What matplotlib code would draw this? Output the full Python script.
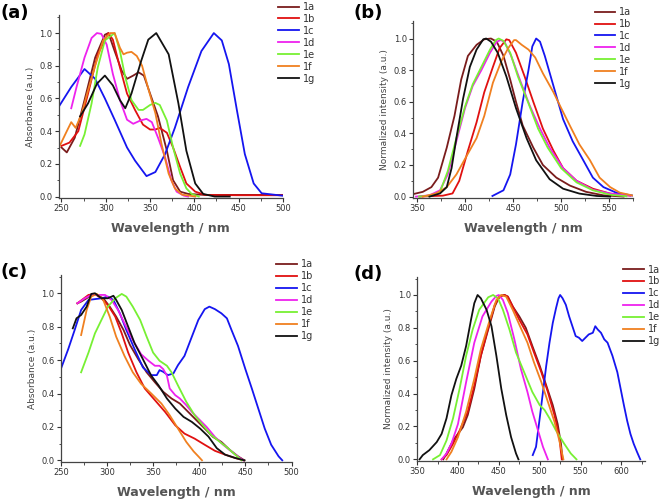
import matplotlib
matplotlib.use("Agg")
import matplotlib.pyplot as plt
from matplotlib.ticker import MultipleLocator, AutoMinorLocator

names = ["1a", "1b", "1c", "1d", "1e", "1f", "1g"]
colors = ["#7a1c1c", "#e01010", "#1515f0", "#ee22ee", "#77f033", "#f08020", "#111111"]

# (a) absorbance, set 1
a_1a_x = [250, 256, 265, 276, 288, 299, 303, 310, 318, 324, 331, 337, 343, 350, 359, 369, 376, 384, 393, 412, 450, 500]
a_1a_y = [0.30, 0.27, 0.36, 0.59, 0.85, 0.99, 1.0, 0.89, 0.77, 0.72, 0.74, 0.76, 0.74, 0.63, 0.49, 0.28, 0.10, 0.03, 0.016, 0.01, 0.01, 0.01]
a_1b_x = [250, 259, 269, 280, 291, 301, 303, 308, 316, 324, 333, 342, 350, 356, 361, 369, 376, 384, 391, 401, 412, 450, 500]
a_1b_y = [0.31, 0.33, 0.40, 0.63, 0.87, 0.98, 1.0, 0.96, 0.79, 0.63, 0.53, 0.44, 0.41, 0.41, 0.42, 0.39, 0.30, 0.18, 0.08, 0.03, 0.01, 0.008, 0.008]
a_1c_x = [247, 261, 276, 288, 299, 310, 324, 333, 346, 356, 367, 378, 393, 408, 422, 431, 439, 448, 457, 467, 476, 500]
a_1c_y = [0.55, 0.67, 0.78, 0.72, 0.60, 0.47, 0.30, 0.22, 0.125, 0.15, 0.26, 0.42, 0.67, 0.89, 1.0, 0.955, 0.81, 0.53, 0.26, 0.08, 0.02, 0.005]
a_1d_x = [261, 267, 276, 284, 290, 295, 301, 308, 316, 324, 331, 339, 346, 352, 359, 367, 374, 380, 388, 393]
a_1d_y = [0.54, 0.67, 0.85, 0.97, 1.0, 0.995, 0.93, 0.75, 0.59, 0.47, 0.445, 0.465, 0.475, 0.455, 0.36, 0.24, 0.10, 0.03, 0.006, 0.0]
a_1e_x = [271, 276, 284, 291, 299, 310, 316, 322, 329, 337, 342, 350, 356, 361, 369, 376, 384, 391, 397, 405]
a_1e_y = [0.31, 0.38, 0.57, 0.79, 0.955, 1.0, 0.89, 0.73, 0.59, 0.53, 0.53, 0.56, 0.573, 0.56, 0.465, 0.30, 0.14, 0.05, 0.016, 0.0]
a_1f_x = [248, 256, 261, 266, 273, 280, 288, 297, 305, 310, 316, 320, 324, 329, 335, 341, 348, 356, 363, 371, 378, 386, 401]
a_1f_y = [0.31, 0.40, 0.455, 0.42, 0.51, 0.65, 0.80, 0.955, 1.0, 1.0, 0.91, 0.87, 0.88, 0.885, 0.86, 0.80, 0.66, 0.51, 0.32, 0.14, 0.05, 0.012, 0.0]
a_1g_x = [271, 280, 290, 299, 308, 316, 322, 329, 340, 348, 357, 371, 382, 391, 401, 410, 423, 440]
a_1g_y = [0.49, 0.57, 0.69, 0.74, 0.68, 0.59, 0.54, 0.63, 0.83, 0.96, 1.0, 0.87, 0.57, 0.28, 0.08, 0.016, 0.0, 0.0]

# (b) emission, set 1
b_1a_x = [342, 356, 365, 372, 381, 389, 396, 403, 412, 420, 427, 433, 440, 447, 453, 460, 471, 481, 495, 509, 526, 544, 565]
b_1a_y = [0.01, 0.03, 0.06, 0.12, 0.31, 0.51, 0.74, 0.89, 0.96, 0.995, 1.0, 0.98, 0.89, 0.74, 0.60, 0.45, 0.31, 0.20, 0.12, 0.07, 0.03, 0.008, 0.0]
b_1b_x = [353, 377, 387, 394, 403, 412, 420, 429, 436, 443, 446, 453, 462, 471, 481, 492, 502, 516, 533, 551, 572]
b_1b_y = [0.0, 0.006, 0.02, 0.10, 0.29, 0.47, 0.66, 0.82, 0.94, 0.995, 0.99, 0.91, 0.76, 0.60, 0.43, 0.29, 0.18, 0.10, 0.05, 0.019, 0.006]
b_1c_x = [428.5, 440, 447, 453, 460, 466, 470, 474, 478, 483, 492, 502, 512, 523, 533, 544, 558, 575]
b_1c_y = [0.004, 0.04, 0.14, 0.33, 0.60, 0.80, 0.95, 1.0, 0.98, 0.89, 0.70, 0.49, 0.35, 0.23, 0.12, 0.06, 0.023, 0.006]
b_1d_x = [349, 363, 374, 382, 391, 400, 408, 417, 426, 433, 437, 441, 448, 457, 467, 478, 488, 502, 516, 533, 551, 572]
b_1d_y = [0.0, 0.008, 0.04, 0.14, 0.35, 0.56, 0.70, 0.80, 0.91, 0.98, 0.99, 0.98, 0.89, 0.74, 0.58, 0.43, 0.31, 0.18, 0.10, 0.043, 0.019, 0.006]
b_1e_x = [352, 365, 374, 382, 391, 400, 408, 417, 426, 432, 435, 440, 447, 455, 466, 476, 486, 500, 516, 533, 551, 568]
b_1e_y = [0.0, 0.008, 0.03, 0.16, 0.37, 0.57, 0.71, 0.82, 0.93, 0.99, 1.0, 0.985, 0.91, 0.76, 0.59, 0.43, 0.31, 0.18, 0.09, 0.04, 0.012, 0.002]
b_1f_x = [356, 370, 381, 391, 401, 412, 420, 429, 438, 445, 451, 453, 459, 466, 473, 481, 492, 500, 509, 519, 530, 540, 551, 561, 575]
b_1f_y = [0.0, 0.02, 0.06, 0.14, 0.25, 0.37, 0.51, 0.72, 0.86, 0.94, 0.99, 0.99, 0.96, 0.93, 0.88, 0.78, 0.66, 0.56, 0.45, 0.33, 0.23, 0.12, 0.06, 0.025, 0.006]
b_1g_x = [363, 374, 381, 386, 391, 398, 405, 412, 419, 422, 427, 434, 443, 453, 464, 474, 488, 502, 519, 537, 551]
b_1g_y = [0.0, 0.02, 0.06, 0.18, 0.37, 0.62, 0.82, 0.93, 0.995, 1.0, 0.98, 0.91, 0.76, 0.56, 0.37, 0.23, 0.11, 0.05, 0.019, 0.004, 0.0]

# (c) absorbance, set 2
c_1a_x = [268, 272, 278, 283, 289, 296, 303, 310, 318, 325, 334, 343, 352, 361, 370, 379, 388, 397, 406, 415, 424, 433, 442, 449]
c_1a_y = [0.94, 0.95, 0.97, 0.99, 0.99, 0.97, 0.92, 0.86, 0.78, 0.69, 0.605, 0.527, 0.467, 0.41, 0.37, 0.34, 0.29, 0.24, 0.19, 0.14, 0.11, 0.063, 0.024, 0.0]
c_1b_x = [268, 274, 280, 287, 294, 301, 309, 316, 323, 332, 341, 352, 363, 374, 384, 395, 406, 417, 428, 439, 448]
c_1b_y = [0.94, 0.965, 0.99, 0.995, 0.97, 0.93, 0.86, 0.76, 0.645, 0.527, 0.43, 0.36, 0.29, 0.21, 0.16, 0.13, 0.093, 0.057, 0.034, 0.014, 0.0]
c_1c_x = [250, 258, 265, 272, 280, 287, 294, 301, 307, 314, 321, 330, 339, 348, 354, 357, 361, 366, 372, 377, 384, 392, 399, 406, 411, 417, 424, 430, 435, 442, 450, 457, 464, 471, 478, 486, 490]
c_1c_y = [0.546, 0.665, 0.78, 0.90, 0.96, 0.965, 0.97, 0.98, 0.96, 0.88, 0.78, 0.665, 0.556, 0.51, 0.51, 0.54, 0.53, 0.51, 0.52, 0.57, 0.625, 0.74, 0.84, 0.905, 0.92, 0.905, 0.88, 0.85, 0.78, 0.685, 0.546, 0.43, 0.31, 0.19, 0.093, 0.024, 0.0]
c_1d_x = [268, 276, 283, 290, 298, 305, 312, 319, 328, 337, 345, 352, 357, 361, 365, 368, 374, 379, 386, 392, 399, 408, 417, 426, 435, 444, 448]
c_1d_y = [0.94, 0.97, 0.99, 0.99, 0.99, 0.96, 0.90, 0.82, 0.72, 0.635, 0.596, 0.566, 0.566, 0.546, 0.507, 0.43, 0.39, 0.37, 0.33, 0.29, 0.25, 0.20, 0.14, 0.093, 0.053, 0.014, 0.0]
c_1e_x = [272, 280, 287, 294, 301, 309, 316, 321, 328, 336, 343, 350, 357, 365, 370, 377, 386, 395, 404, 413, 422, 431, 441, 446]
c_1e_y = [0.527, 0.645, 0.76, 0.84, 0.92, 0.97, 0.996, 0.98, 0.92, 0.84, 0.74, 0.645, 0.596, 0.566, 0.527, 0.448, 0.35, 0.27, 0.21, 0.152, 0.112, 0.073, 0.024, 0.0]
c_1f_x = [272, 278, 283, 289, 296, 303, 310, 319, 328, 337, 348, 359, 368, 377, 386, 394, 399, 403]
c_1f_y = [0.75, 0.90, 0.98, 0.996, 0.96, 0.86, 0.74, 0.625, 0.527, 0.458, 0.40, 0.34, 0.27, 0.19, 0.11, 0.053, 0.024, 0.0]
c_1g_x = [263, 267, 272, 278, 283, 287, 294, 301, 307, 310, 316, 323, 330, 339, 348, 356, 365, 374, 383, 392, 401, 410, 419, 428, 439, 449]
c_1g_y = [0.79, 0.85, 0.87, 0.92, 0.996, 1.0, 0.97, 0.97, 0.985, 0.96, 0.90, 0.80, 0.70, 0.605, 0.507, 0.448, 0.37, 0.31, 0.26, 0.23, 0.19, 0.142, 0.073, 0.034, 0.014, 0.0]

# (d) emission, set 2
d_1a_x = [382, 386, 394, 400, 406, 412, 420, 428, 437, 445, 451, 457, 461, 467, 475, 483, 491, 500, 508, 516, 522, 526, 528]
d_1a_y = [0.0, 0.036, 0.115, 0.155, 0.195, 0.27, 0.43, 0.63, 0.79, 0.93, 0.994, 1.0, 0.99, 0.93, 0.87, 0.80, 0.69, 0.57, 0.45, 0.33, 0.215, 0.095, 0.0]
d_1b_x = [380, 386, 394, 402, 412, 420, 428, 437, 445, 451, 457, 461, 467, 475, 485, 493, 502, 510, 518, 524, 527]
d_1b_y = [0.0, 0.026, 0.095, 0.175, 0.29, 0.45, 0.63, 0.80, 0.94, 0.99, 1.0, 0.99, 0.93, 0.85, 0.76, 0.65, 0.53, 0.41, 0.27, 0.135, 0.0]
d_1c_x = [491.5, 495.5, 500, 504, 508, 512, 516, 520, 523, 525, 528, 532, 536, 540, 544, 548, 552, 556, 560, 565, 568, 571, 575, 579, 583, 589, 595, 599, 603, 607, 611, 615, 619, 623]
d_1c_y = [0.026, 0.076, 0.25, 0.41, 0.57, 0.71, 0.83, 0.92, 0.98, 1.0, 0.98, 0.94, 0.87, 0.81, 0.75, 0.74, 0.72, 0.74, 0.76, 0.77, 0.81, 0.79, 0.77, 0.73, 0.71, 0.63, 0.53, 0.43, 0.33, 0.235, 0.155, 0.095, 0.046, 0.0]
d_1d_x = [380, 386, 392, 400, 410, 420, 430, 441, 447, 450, 455, 461, 469, 477, 485, 491, 498, 504, 510]
d_1d_y = [0.0, 0.036, 0.095, 0.215, 0.47, 0.71, 0.87, 0.96, 0.994, 1.0, 0.97, 0.89, 0.73, 0.55, 0.41, 0.29, 0.175, 0.076, 0.0]
d_1e_x = [369.5, 378, 386, 394, 402, 410, 418, 426, 437, 443, 449, 455, 463, 471, 481, 491, 500, 506, 512, 520, 530, 538, 545]
d_1e_y = [0.0, 0.026, 0.115, 0.25, 0.43, 0.63, 0.79, 0.91, 0.986, 1.0, 0.98, 0.91, 0.79, 0.65, 0.53, 0.41, 0.33, 0.30, 0.25, 0.175, 0.095, 0.036, 0.0]
d_1f_x = [386, 392, 400, 410, 420, 428, 439, 447, 453, 459, 467, 475, 485, 493, 502, 510, 518, 524, 529]
d_1f_y = [0.0, 0.046, 0.135, 0.29, 0.49, 0.67, 0.85, 0.97, 1.0, 0.99, 0.91, 0.82, 0.71, 0.59, 0.47, 0.35, 0.23, 0.115, 0.0]
d_1g_x = [353, 357, 365, 374, 380, 386, 392, 398, 404, 410, 416, 420, 424, 428, 435, 441, 447, 453, 459, 465, 471, 474]
d_1g_y = [0.0, 0.026, 0.056, 0.105, 0.155, 0.25, 0.39, 0.49, 0.57, 0.69, 0.85, 0.95, 1.0, 0.98, 0.91, 0.81, 0.63, 0.43, 0.27, 0.135, 0.036, 0.0]

panels = [
    ("(a)", [0.089, 0.606, 0.339, 0.364], (247, 500), (250, 501), "Absorbance (a.u.)",
     [(a_1a_x, a_1a_y), (a_1b_x, a_1b_y), (a_1c_x, a_1c_y), (a_1d_x, a_1d_y), (a_1e_x, a_1e_y), (a_1f_x, a_1f_y), (a_1g_x, a_1g_y)],
     (0.418, 1.0), (0.0, 0.975)),
    ("(b)", [0.625, 0.606, 0.333, 0.352], (346, 575), (350, 551), "Normalized intensity (a.u.)",
     [(b_1a_x, b_1a_y), (b_1b_x, b_1b_y), (b_1c_x, b_1c_y), (b_1d_x, b_1d_y), (b_1e_x, b_1e_y), (b_1f_x, b_1f_y), (b_1g_x, b_1g_y)],
     (0.897, 0.99), (0.535, 0.975)),
    ("(c)", [0.092, 0.0815, 0.349, 0.372], (250, 500), (250, 501), "Absorbance (a.u.)",
     [(c_1a_x, c_1a_y), (c_1b_x, c_1b_y), (c_1c_x, c_1c_y), (c_1d_x, c_1d_y), (c_1e_x, c_1e_y), (c_1f_x, c_1f_y), (c_1g_x, c_1g_y)],
     (0.415, 0.488), (0.0, 0.46)),
    ("(d)", [0.631, 0.0835, 0.345, 0.366], (350, 629), (350, 601), "Normalized intensity (a.u.)",
     [(d_1a_x, d_1a_y), (d_1b_x, d_1b_y), (d_1c_x, d_1c_y), (d_1d_x, d_1d_y), (d_1e_x, d_1e_y), (d_1f_x, d_1f_y), (d_1g_x, d_1g_y)],
     (0.940, 0.478), (0.535, 0.455)),
]

fig = plt.figure(figsize=(6.61, 5.03), dpi=100)

for tag, rect, xlim, xt, ylab, curves, leg_pos, tag_pos in panels:
    ax = fig.add_axes(rect)
    for (x, y), name, col in zip(curves, names, colors):
        ax.plot(x, y, color=col, lw=1.3, label=name)
    ax.set_xlim(*xlim)
    ax.set_ylim(-0.01, 1.11)
    ax.set_xticks(range(xt[0], xt[1], 50))
    ax.xaxis.set_minor_locator(AutoMinorLocator(2))
    ax.yaxis.set_major_locator(MultipleLocator(0.2))
    ax.yaxis.set_minor_locator(AutoMinorLocator(2))
    ax.yaxis.set_major_formatter(matplotlib.ticker.FormatStrFormatter("%.1f"))
    ax.spines["top"].set_visible(False)
    ax.spines["right"].set_visible(False)
    for s in ("left", "bottom"):
        ax.spines[s].set_color("#444444")
        ax.spines[s].set_linewidth(0.9)
    ax.tick_params(which="major", direction="out", length=3, width=0.8, labelsize=6, colors="#333333", pad=1.5)
    ax.tick_params(which="minor", direction="out", length=1.8, width=0.6, colors="#333333")
    ax.set_ylabel(ylab, fontsize=6.5, color="#444444", labelpad=3)
    ax.set_xlabel("Wavelength / nm", fontsize=9, fontweight="bold", color="#555555", labelpad=6)
    ax.legend(loc="upper left", bbox_to_anchor=leg_pos, bbox_transform=fig.transFigure,
              frameon=False, fontsize=7, handlelength=2.1, handletextpad=0.4,
              labelspacing=0.2, borderaxespad=0, borderpad=0.2, labelcolor="#333333")
    fig.text(tag_pos[0], tag_pos[1], tag, fontsize=13, fontweight="bold", va="center", ha="left")

fig.savefig("out.png", dpi=100)
